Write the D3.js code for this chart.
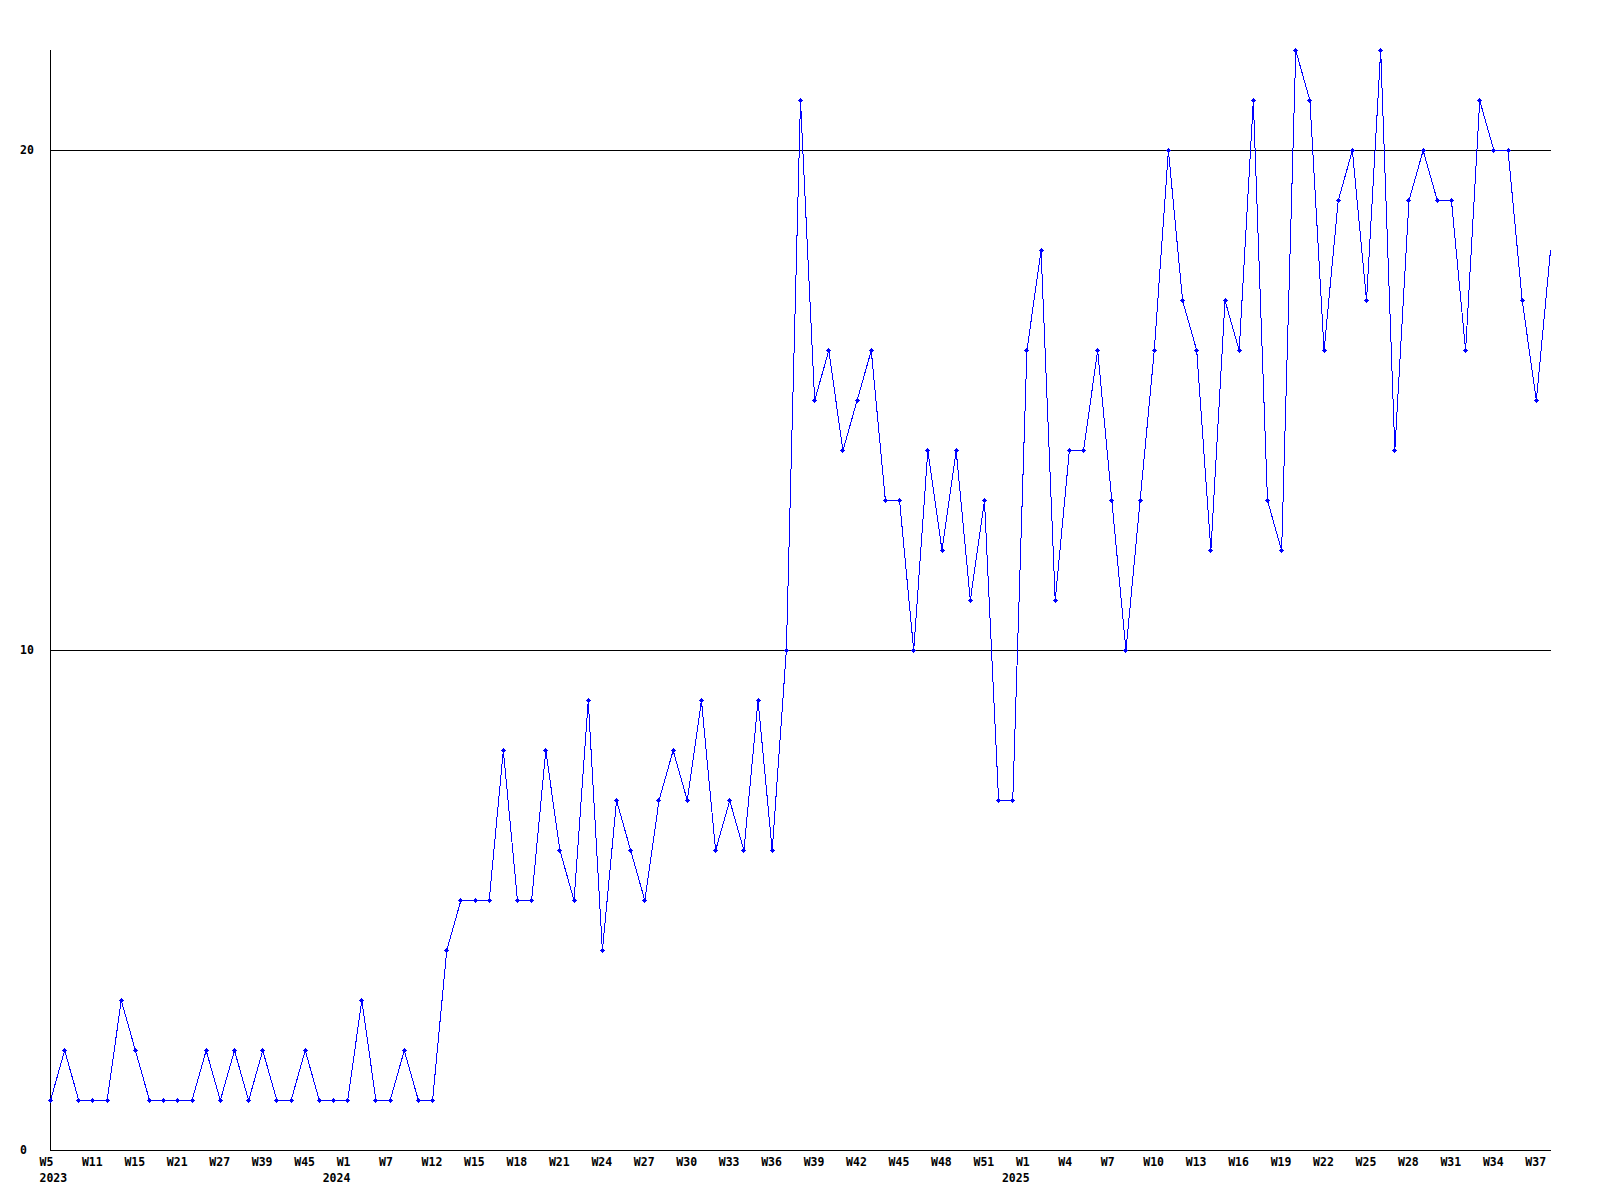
<!DOCTYPE html>
<html lang="en">

<head>
    <meta charset="UTF-8" />
    <meta name="viewport" content="width=device-width, initial-scale=1.0" />
    <script type="text/javascript" src="https://cdn.jsdelivr.net/npm/d3@7"></script>
    <title>Weekly count</title>
    <style>
        body { margin: 0; background: #fff; }
        svg text { font-family: "DejaVu Sans Mono", "Liberation Mono", monospace; font-weight: bold; font-size: 11.5px; }
    </style>
</head>

<body>
    <div id="my_dataviz"></div>
    <script type="text/javascript">
        // weeks with data, per year
        var weeks2023 = ["W5", "W7", "W9", "W11", "W12", "W14", "W15", "W17", "W19", "W21", "W23", "W25", "W27", "W30", "W35",
            "W39", "W41", "W43", "W45", "W48", "W50"];
        var weeks2024 = ["W1", "W3", "W5", "W7", "W9", "W10", "W12", "W13", "W14", "W15", "W16", "W17", "W18", "W19", "W20",
            "W21", "W22", "W23", "W24", "W25", "W26", "W27", "W28", "W29", "W30", "W31", "W32", "W33", "W34", "W35",
            "W36", "W37", "W38", "W39", "W40", "W41", "W42", "W43", "W44", "W45", "W46", "W47", "W48", "W49", "W50",
            "W51", "W52", "W53"];
        var weeks2025 = ["W1", "W2", "W3", "W4", "W5", "W6", "W7", "W8", "W9", "W10", "W11", "W12", "W13", "W14", "W15",
            "W16", "W17", "W18", "W19", "W20", "W21", "W22", "W23", "W24", "W25", "W26", "W27", "W28", "W29", "W30",
            "W31", "W32", "W33", "W34", "W35", "W36", "W37", "W38"];

        var counts = [1, 2, 1, 1, 1, 3, 2, 1, 1, 1, 1, 2, 1, 2, 1, 2, 1, 1, 2, 1, 1,
            1, 3, 1, 1, 2, 1, 1, 4, 5, 5, 5, 8, 5, 5, 8, 6, 5, 9, 4, 7, 6, 5, 7, 8, 7, 9, 6, 7, 6, 9, 6, 10,
            21, 15, 16, 14, 15, 16, 13, 13, 10, 14, 12, 14, 11, 13, 7, 7,
            16, 18, 11, 14, 14, 16, 13, 10, 13, 16, 20, 17, 16, 12, 17, 16, 21, 13, 12, 22, 21, 16, 19, 20,
            17, 22, 14, 19, 20, 19, 19, 16, 21, 20, 20, 17, 15, 18];

        var yTicks = [0, 10, 20];
        var yMax = 22;

        var data = [];
        [[2023, weeks2023], [2024, weeks2024], [2025, weeks2025]].forEach(function (yw) {
            yw[1].forEach(function (w) {
                data.push({ key: yw[0] + "-" + w, year: yw[0], week: w });
            });
        });
        data.forEach(function (d, i) { d.value = counts[i]; });

        const margin = { top: 50, right: 1550, bottom: 1150, left: 50 };

        const svg = d3.select("#my_dataviz")
            .append("svg")
            .attr("width", 1600)
            .attr("height", 1200);

        const x = d3.scalePoint()
            .domain(data.map(d => d.key))
            .range([margin.left, margin.right]);

        const y = d3.scaleLinear()
            .domain([0, yMax])
            .range([margin.bottom, margin.top]);

        // grid lines
        svg.selectAll("line.grid")
            .data(yTicks.filter(t => t > 0))
            .enter().append("line")
            .attr("class", "grid")
            .attr("x1", margin.left).attr("x2", margin.right + 1)
            .attr("y1", d => y(d) + 0.5).attr("y2", d => y(d) + 0.5)
            .attr("stroke", "#000")
            .attr("shape-rendering", "crispEdges");

        // axes
        svg.append("line")
            .attr("x1", margin.left + 0.5).attr("x2", margin.left + 0.5)
            .attr("y1", margin.top).attr("y2", margin.bottom + 1)
            .attr("stroke", "#000").attr("shape-rendering", "crispEdges");
        svg.append("line")
            .attr("x1", margin.left).attr("x2", margin.right + 1)
            .attr("y1", margin.bottom + 0.5).attr("y2", margin.bottom + 0.5)
            .attr("stroke", "#000").attr("shape-rendering", "crispEdges");

        svg.selectAll("text.ylab")
            .data(yTicks)
            .enter().append("text")
            .attr("class", "ylab")
            .attr("x", 20)
            .attr("y", d => y(d) + 4)
            .text(d => d);

        // x labels every 3rd week
        var labelled = data.filter((d, i) => i % 3 == 0);
        svg.selectAll("text.xlab")
            .data(labelled)
            .enter().append("text")
            .attr("class", "xlab")
            .attr("x", d => x(d.key) - 10.5)
            .attr("y", 1166)
            .text(d => d.week);

        // year under the first label of each year
        var seen = {};
        var yearLabels = labelled.filter(function (d) {
            if (seen[d.year]) return false;
            seen[d.year] = true;
            return true;
        });
        svg.selectAll("text.year")
            .data(yearLabels)
            .enter().append("text")
            .attr("class", "year")
            .attr("x", d => Math.max(x(d.key) - 24.5, margin.left - 10.5))
            .attr("y", 1182)
            .text(d => d.year);

        // line
        const line = d3.line()
            .x(d => x(d.key) + 0.5)
            .y(d => y(d.value) + 0.5);

        svg.append("path")
            .datum(data)
            .attr("d", line)
            .attr("fill", "none")
            .attr("stroke", "#0000ff")
            .attr("stroke-width", 1)
            .attr("shape-rendering", "crispEdges");

        // point markers (small crosses)
        var marks = svg.selectAll("g.mark")
            .data(data.slice(0, data.length - 1))
            .enter().append("g")
            .attr("class", "mark")
            .attr("transform", d => `translate(${Math.round(x(d.key))}, ${Math.round(y(d.value))})`);

        marks.append("rect")
            .attr("x", -1).attr("y", -1)
            .attr("width", 3).attr("height", 3)
            .attr("fill", "#0000ff");
        marks.append("rect")
            .attr("x", -2).attr("y", 0)
            .attr("width", 5).attr("height", 1)
            .attr("fill", "#0000ff");
        marks.append("rect")
            .attr("x", 0).attr("y", -2)
            .attr("width", 1).attr("height", 5)
            .attr("fill", "#0000ff");
    </script>
</body>

</html>
